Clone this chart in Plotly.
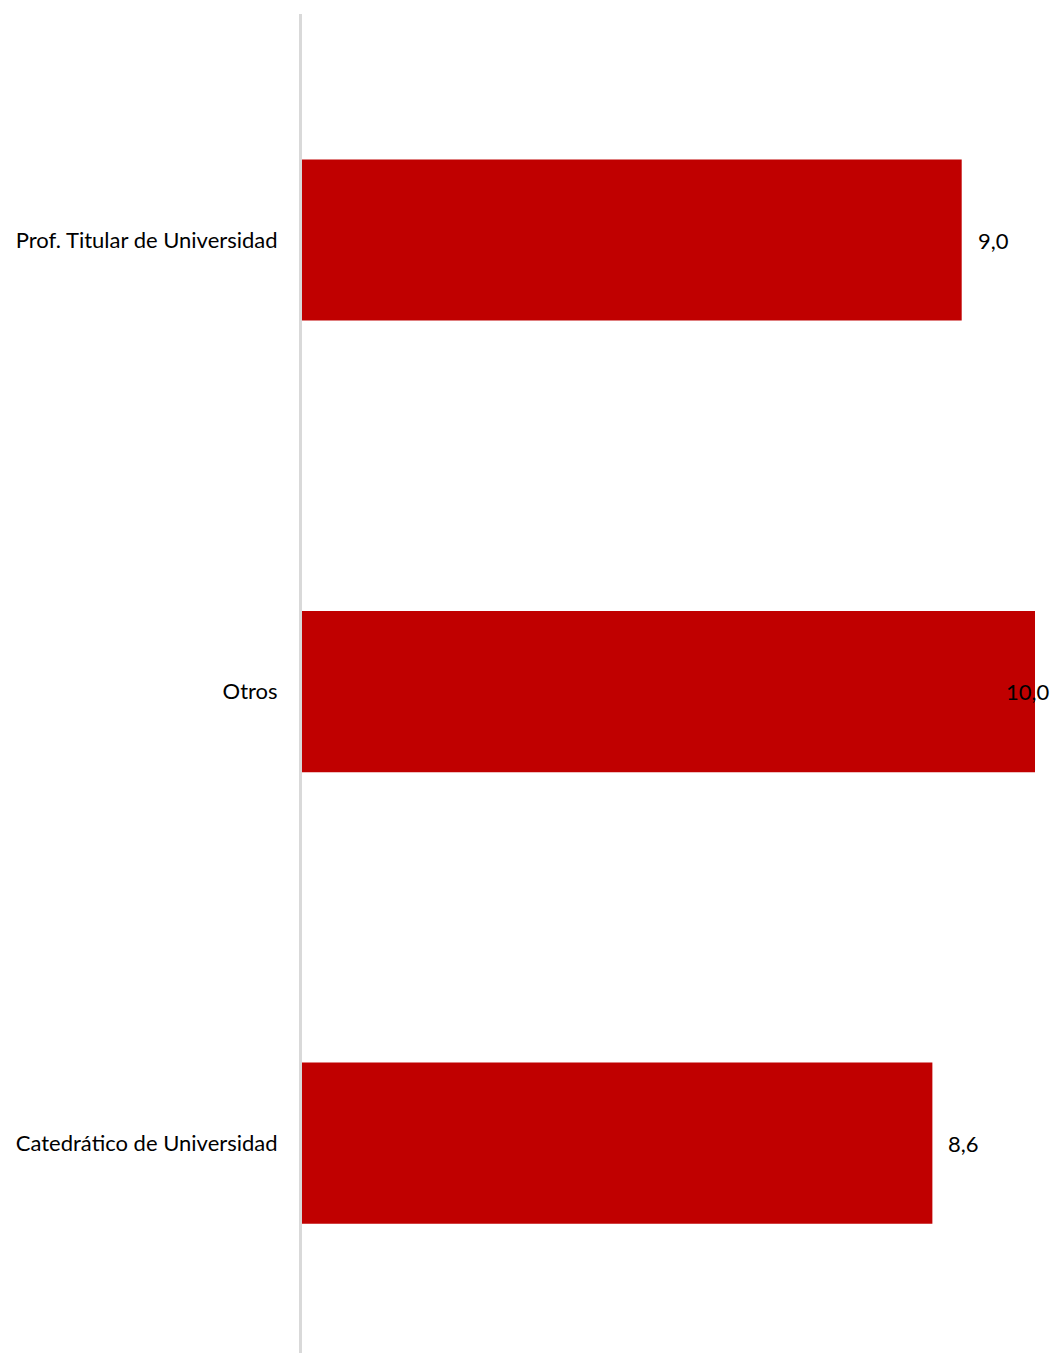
import plotly.graph_objects as go

categories = ["Catedrático de Universidad", "Otros", "Prof. Titular de Universidad"]
values = [8.6, 10.0, 9.0]
labels = ["8,6", "10,0", "9,0"]

FONT = "Lato"
fig = go.Figure()
fig.add_trace(go.Bar(
    y=categories, x=values, orientation="h",
    marker=dict(color="#c00000", line=dict(width=0)),
    width=0.357, hoverinfo="skip",
))

vmax = max(values)
for c, v, t in zip(categories, values, labels):
    if v == vmax:
        fig.add_annotation(x=v, y=c, text=t, showarrow=False, xanchor="center", xshift=-7,
                           font=dict(family=FONT, size=22, color="#000000"))
    else:
        fig.add_annotation(x=v, y=c, text=t, showarrow=False, xanchor="left", xshift=14,
                           font=dict(family=FONT, size=22, color="#000000"))

fig.update_layout(
    width=1043, height=1345,
    margin=dict(l=294, r=16, t=6, b=0),
    paper_bgcolor="white", plot_bgcolor="white",
    showlegend=False,
    xaxis=dict(range=[0, 10], visible=False, fixedrange=True),
    yaxis=dict(categoryorder="array", categoryarray=categories,
               range=[-0.465, 2.5006], showline=True, linecolor="#d9d9d9", linewidth=3,
               showgrid=False, zeroline=False, ticks="", ticklabelstandoff=17,
               tickfont=dict(family=FONT, size=22, color="#000000")),
)
fig.write_html("out.html")
